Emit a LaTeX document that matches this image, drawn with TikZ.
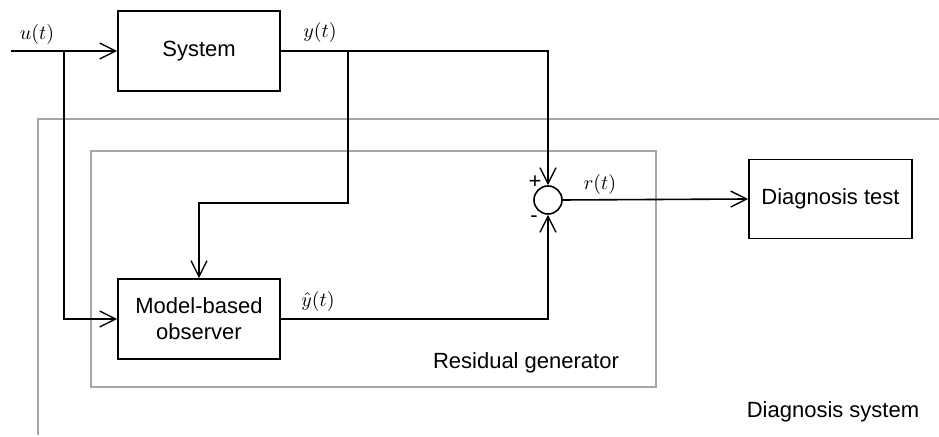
\documentclass[tikz,border=0pt]{standalone}
\usepackage{fontspec}
\setmainfont{Liberation Sans}
\usepackage{amsmath}
\usepackage{tikz}
\usetikzlibrary{arrows.meta, positioning, calc}
\definecolor{framegray}{HTML}{A6A6A6}

\begin{document}
\begin{tikzpicture}[x=0.5pt, y=-0.5pt,
  box/.style={rectangle, draw=black, line width=0.8pt, minimum width=81pt, minimum height=40pt, align=center, font=\fontsize{11}{13}\selectfont, inner sep=0pt},
  arrow/.style={-{Straight Barb[length=8pt, width=8pt, line width=0.7pt]}, line width=0.8pt},
  wire/.style={line width=0.8pt},
  frame/.style={draw=framegray, line width=0.7pt},
  sig/.style={font=\fontsize{10}{12}\selectfont, inner sep=0pt},
  txt/.style={font=\fontsize{11}{13}\selectfont, inner sep=0pt}
]
  \useasboundingbox (0,0) rectangle (939,437);

  % frames
  \draw[frame] (91,151) rectangle (656,387);
  \draw[frame] (38,435) -- (38,119) -- (939,119);

  % blocks
  \node[box] (system) at (199,51) {System};
  \node[box] (observer) at (199,319) {Model-based\\observer};
  \node[box, minimum width=81.5pt, minimum height=39.5pt] (test) at (830.5,199) {Diagnosis test};
  \node[circle, draw=black, line width=0.8pt, minimum size=14pt, inner sep=0pt] (sum) at (548,200) {};

  \coordinate (in) at (11,51);
  \coordinate (ubranch) at (64,51);
  \coordinate (ybranch) at (348,51);

  % signals
  \draw[arrow] (in) -- (system.west);
  \draw[arrow] (ubranch) |- (observer.west);
  \draw[arrow] (system.east) -| (sum.north);
  \draw[arrow] (ybranch) |- (199,203) -- (observer.north);
  \draw[arrow] (observer.east) -| (sum.south);
  \draw[arrow] (sum.east) -- (test.west);

  % labels
  \node[sig] (ulabel) at (37,35) {$u(t)$};
  \node[sig] (ylabel) at (320,33) {$y(t)$};
  \node[sig] (yhatlabel) at (318,302) {$\hat{y}(t)$};
  \node[sig] (rlabel) at (600,185) {$r(t)$};
  \node[txt] (plus) at (535,182) {+};
  \node[txt] (minus) at (534,219) {-};
  \node[txt] (reslabel) at (526,363) {Residual generator};
  \node[txt] (diaglabel) at (833,412) {Diagnosis system};
\end{tikzpicture}
\end{document}
